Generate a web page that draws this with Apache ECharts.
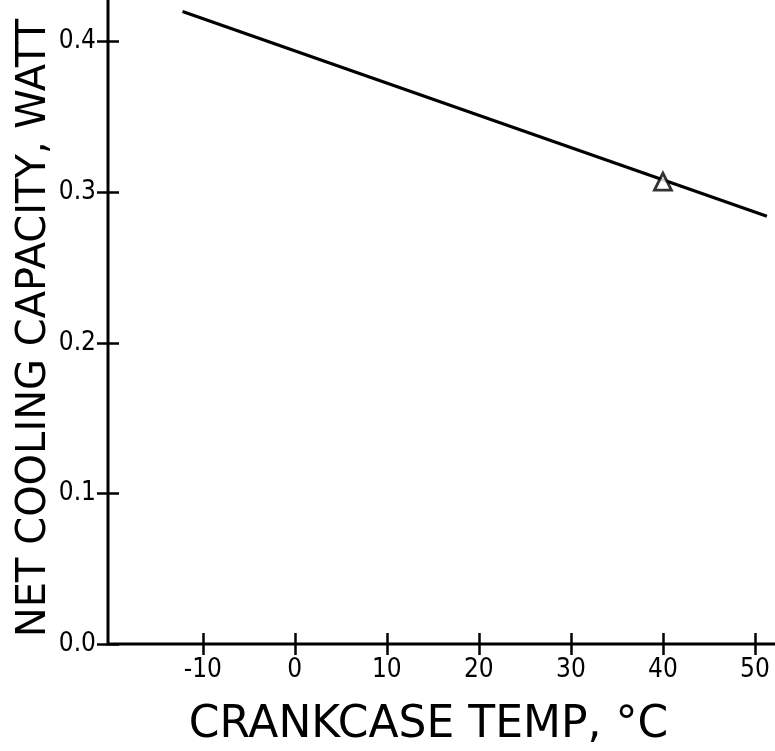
<!DOCTYPE html>
<html>
<head>
<meta charset="utf-8">
<script src="https://cdn.jsdelivr.net/npm/echarts@6/dist/echarts.min.js"></script>
<style>html,body{margin:0;padding:0;background:#fff}#c{width:775px;height:751px}</style>
</head>
<body>
<div id="c"></div>
<script>
// Data
var lineTemps = [-12.2, 51.3];          // °C
var lineCapacity = [0.420, 0.284];      // W
var pointTemps = [40];
var pointCapacity = [0.307];
var xTickValues = [-10, 0, 10, 20, 30, 40, 50];
var yTickValues = [0.0, 0.1, 0.2, 0.3, 0.4];

var linePairs = lineTemps.map(function (t, i) { return [t, lineCapacity[i]]; });
var pointPairs = pointTemps.map(function (t, i) { return [t, pointCapacity[i]]; });

var labelFont = "'DejaVu Sans Condensed', 'DejaVu Sans', sans-serif";
var titleFont = "'DejaVu Sans', sans-serif";
var ink = '#000';
var tickStyle = { color: ink, width: 2.5 };

var chart = echarts.init(document.getElementById('c'), null, { renderer: 'canvas' });
chart.setOption({
  animation: false,
  backgroundColor: '#fff',
  // grid border draws the two axis lines; its top and right sides fall outside the canvas
  grid: { show: true, borderColor: ink, borderWidth: 3, backgroundColor: 'transparent',
          left: 108, right: -60, top: -100, bottom: 107,
          containLabel: false, outerBoundsMode: 'none' },
  xAxis: {
    type: 'value', position: 'bottom', offset: -11, min: -20.3, max: 58.7,
    splitLine: { show: false },
    axisLine: { show: false, onZero: false },
    axisTick: { show: true, length: 22, customValues: xTickValues, lineStyle: tickStyle },
    name: 'CRANKCASE TEMP, °C',
    nameLocation: 'middle',
    nameGap: 71,
    nameMoveOverlap: false,
    nameTextStyle: { fontFamily: titleFont, fontSize: 44, color: ink, padding: [0, 86, 0, 0] },
    axisLabel: {
      show: true, customValues: xTickValues, margin: 24,
      fontFamily: labelFont, fontSize: 26, color: ink,
      formatter: function (v) { return String(Math.round(v)); }
    }
  },
  yAxis: {
    type: 'value', position: 'left', offset: -11, min: 0, max: 0.494,
    splitLine: { show: false },
    axisLine: { show: false, onZero: false },
    axisTick: { show: true, length: 22, customValues: yTickValues, lineStyle: tickStyle },
    name: 'NET COOLING CAPACITY, WATT',
    nameLocation: 'middle',
    nameGap: 64,
    nameMoveOverlap: false,
    nameRotate: 90,
    nameTextStyle: { fontFamily: titleFont, fontSize: 40, color: ink, padding: [0, 112, 0, 0] },
    axisLabel: {
      show: true, customValues: yTickValues, margin: 23,
      fontFamily: labelFont, fontSize: 26, color: ink,
      formatter: function (v) { return v.toFixed(1); }
    }
  },
  series: [
    {
      type: 'line', data: linePairs,
      showSymbol: false, symbol: 'none',
      lineStyle: { color: ink, width: 3.2 }
    },
    {
      type: 'scatter', data: pointPairs,
      symbol: 'triangle', symbolSize: 17,
      itemStyle: { color: '#fff', borderColor: ink, borderWidth: 2.8 },
      z: 5
    }
  ]
});
</script>
</body>
</html>
